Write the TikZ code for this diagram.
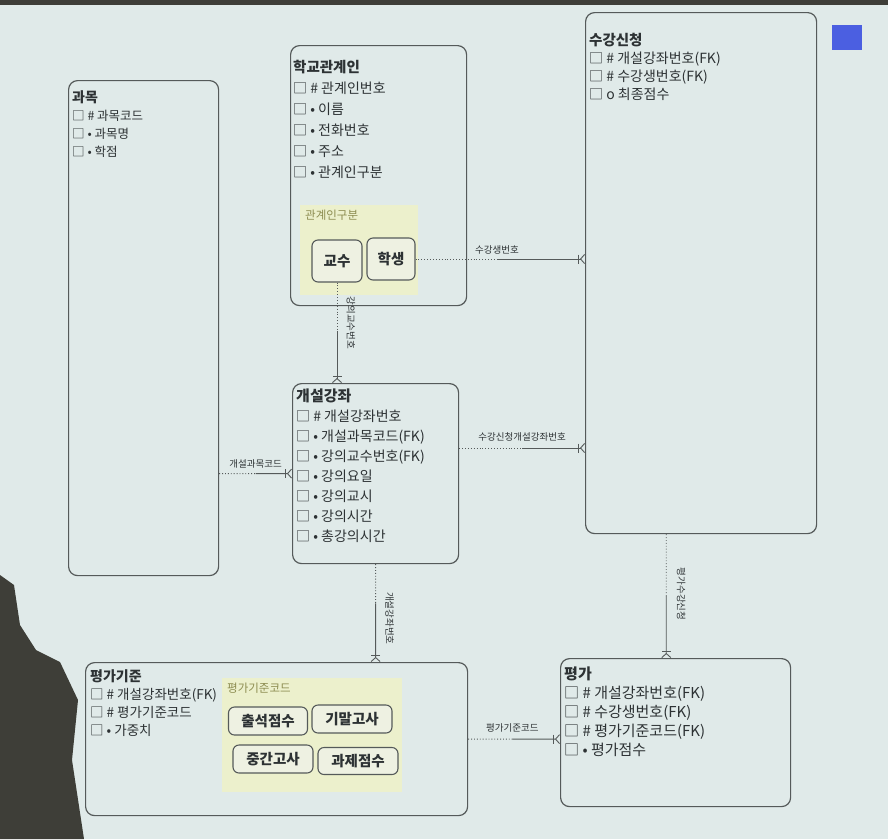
\documentclass[tikz,border=0pt]{standalone}
\usepackage{fontspec}
\setmainfont{Noto Sans CJK KR}
\usetikzlibrary{arrows.meta,positioning,calc}
\definecolor{scrbg}{RGB}{224,234,233}
\definecolor{boxline}{RGB}{85,90,90}
\definecolor{txtgray}{RGB}{45,50,52}
\definecolor{subyellow}{RGB}{236,240,204}
\definecolor{subtxt}{RGB}{140,140,80}
\definecolor{choicefill}{RGB}{238,241,226}
\definecolor{tabblue}{RGB}{75,95,225}
\definecolor{darkedge}{RGB}{62,62,56}

\begin{document}
\begin{tikzpicture}[x=1pt,y=-1pt,
        entity/.style={rectangle,rounded corners=9pt,draw=boxline,line width=1.2pt,
                       fill=scrbg,anchor=north west,inner sep=0pt},
        attr/.style={anchor=north west,align=left,inner sep=0pt,text=txtgray},
        subtype/.style={rectangle,fill=subyellow,anchor=north west,inner sep=0pt},
        sublbl/.style={anchor=north west,inner sep=0pt,text=subtxt,font=\fontsize{11.5}{13}\selectfont},
        choice/.style={rectangle,rounded corners=6pt,draw=boxline,line width=1.1pt,fill=choicefill,
                       text=txtgray,font=\fontsize{14.5}{16}\selectfont\bfseries,inner sep=1pt},
        rel/.style={draw=boxline,line width=0.9pt},
        optl/.style={rel,dotted},
        crow/.style={rel,-{Bar[width=9pt,sep=1pt]Straight Barb[reversed,length=4pt,width=9pt]}},
        rlbl/.style={font=\fontsize{9.5}{10}\selectfont,text=txtgray,inner sep=1pt}]

        % screen
        \fill[scrbg] (0,0) rectangle (888,839);
        \useasboundingbox (0,0) rectangle (888,839);
        \fill[darkedge] (0,0) rectangle (888,5);
        \fill[darkedge] (0,575) -- (14,585) -- (20,625) -- (36,650) -- (60,662) -- (78,700)
              -- (72,760) -- (84,839) -- (0,839) -- cycle;
        \fill[tabblue] (832,25) rectangle (862,50);

        % entities
        \node[entity,minimum width=150,minimum height=495] (gwamok) at (68,80) {};
        \node[attr,font=\fontsize{12.5}{18}\selectfont] (gwamokT) at (72,90)
              {\textbf{\fontsize{14}{18}\selectfont 과목}\\□ \# 과목코드\\□ • 과목명\\□ • 학점};

        \node[entity,minimum width=176,minimum height=260] (gwangye) at (290,45) {};
        \node[attr,font=\fontsize{14}{21}\selectfont] (gwangyeT) at (293,60)
              {\textbf{\fontsize{14.5}{21}\selectfont 학교관계인}\\□ \# 관계인번호\\□ • 이름\\□ • 전화번호\\□ • 주소\\□ • 관계인구분};
        \node[subtype,minimum width=118,minimum height=90] (gubun) at (300,205) {};
        \node[sublbl] (gubunT) at (305,210) {관계인구분};
        \node[choice,minimum width=50,minimum height=42] (gyosu) at (337,261) {교수};
        \node[choice,minimum width=48,minimum height=42] (haksaeng) at (391,259) {학생};

        \node[entity,minimum width=231,minimum height=521] (sugang) at (585,12) {};
        \node[attr,font=\fontsize{14}{18}\selectfont] (sugangT) at (589,33)
              {\textbf{\fontsize{14.5}{18}\selectfont 수강신청}\\□ \# 개설강좌번호(FK)\\□ \# 수강생번호(FK)\\□ o 최종점수};

        \node[entity,minimum width=166,minimum height=180] (gaeseol) at (292,383) {};
        \node[attr,font=\fontsize{14}{20}\selectfont] (gaeseolT) at (296,389)
              {\textbf{\fontsize{15}{20}\selectfont 개설강좌}\\□ \# 개설강좌번호\\□ • 개설과목코드(FK)\\□ • 강의교수번호(FK)\\□ • 강의요일\\□ • 강의교시\\□ • 강의시간\\□ • 총강의시간};

        \node[entity,minimum width=382,minimum height=153] (gijun) at (85,662) {};
        \node[attr,font=\fontsize{13.5}{18}\selectfont] (gijunT) at (90,669)
              {\textbf{\fontsize{14}{18}\selectfont 평가기준}\\□ \# 개설강좌번호(FK)\\□ \# 평가기준코드\\□ • 가중치};
        \node[subtype,minimum width=180,minimum height=114] (gijunkode) at (222,678) {};
        \node[sublbl] (gijunkodeT) at (227,683) {평가기준코드};
        \node[choice,minimum width=79,minimum height=28] (chulseok) at (268,721) {출석점수};
        \node[choice,minimum width=80,minimum height=28] (gimal) at (352,719) {기말고사};
        \node[choice,minimum width=80,minimum height=28] (junggan) at (273,759) {중간고사};
        \node[choice,minimum width=80,minimum height=27] (gwaje) at (358,761) {과제점수};

        \node[entity,minimum width=230,minimum height=148] (pyeongga) at (560,658) {};
        \node[attr,font=\fontsize{15}{19}\selectfont] (pyeonggaT) at (564,667)
              {\textbf{\fontsize{15}{19}\selectfont 평가}\\□ \# 개설강좌번호(FK)\\□ \# 수강생번호(FK)\\□ \# 평가기준코드(FK)\\□ • 평가점수};

        % relations
        \coordinate (r1) at ($(haksaeng.east)!0.48!(haksaeng.east -| sugang.west)$);
        \draw[optl] (haksaeng.east) -- (r1);
        \draw[crow] (r1) -- (haksaeng.east -| sugang.west);
        \node[rlbl,above=4pt] (r1T) at (r1) {수강생번호};

        \coordinate (r2) at ($(gyosu.south)!0.48!(gyosu.south |- gaeseol.north)$);
        \draw[optl] (gyosu.south) -- (r2);
        \draw[crow] (r2) -- (gyosu.south |- gaeseol.north);
        \node[rlbl,rotate=-90] (r2T) at ($(r2)+(14,-8)$) {강의교수번호};

        \coordinate (r3s) at (gaeseol.west -| gwamok.east);
        \coordinate (r3) at ($(r3s)!0.5!(gaeseol.west)$);
        \draw[optl] (r3s) -- (r3);
        \draw[crow] (r3) -- (gaeseol.west);
        \node[rlbl,above=4pt] (r3T) at (r3) {개설과목코드};

        \coordinate (r4s) at ($(gaeseol.north east)+(0,65)$);
        \coordinate (r4) at ($(r4s)!0.5!(r4s -| sugang.west)$);
        \draw[optl] (r4s) -- (r4);
        \draw[crow] (r4) -- (r4s -| sugang.west);
        \node[rlbl,above=6pt] (r4T) at (r4) {수강신청개설강좌번호};

        \coordinate (r5) at ($(gaeseol.south)!0.4!(gaeseol.south |- gijun.north)$);
        \draw[optl] (gaeseol.south) -- (r5);
        \draw[crow] (r5) -- (gaeseol.south |- gijun.north);
        \node[rlbl,rotate=-90] (r5T) at ($(r5)+(14,15)$) {개설강좌번호};

        \coordinate (r6s) at ($(sugang.south west)!0.35!(sugang.south east)$);
        \coordinate (r6) at ($(r6s)!0.5!(r6s |- pyeongga.north)$);
        \draw[optl] (r6s) -- (r6);
        \draw[crow] (r6) -- (r6s |- pyeongga.north);
        \node[rlbl,rotate=-90] (r6T) at ($(r6)+(15,-2)$) {평가수강신청};

        \coordinate (r7) at ($(gijun.east)!0.48!(gijun.east -| pyeongga.west)$);
        \draw[optl] (gijun.east) -- (r7);
        \draw[crow] (r7) -- (gijun.east -| pyeongga.west);
        \node[rlbl,above=6pt] (r7T) at (r7) {평가기준코드};

    \end{tikzpicture}
\end{document}
